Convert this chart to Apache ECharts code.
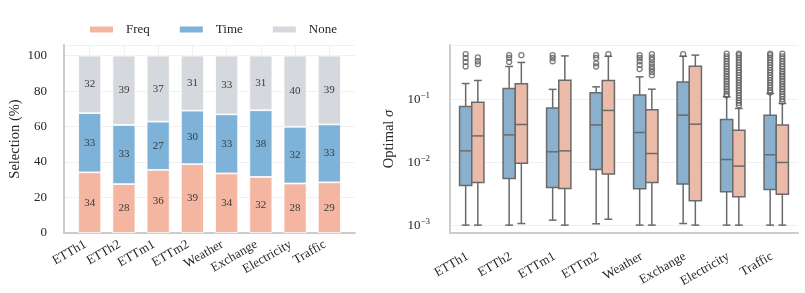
<!DOCTYPE html>
<html>
<head>
<meta charset="utf-8">
<script src="https://cdn.jsdelivr.net/npm/echarts@6/dist/echarts.min.js"></script>
<style>
  html, body { margin: 0; padding: 0; background: #fff; }
  #main { width: 805px; height: 293px; }
</style>
</head>
<body>
<div id="main"></div>
<script>
// datasets on both x axes
const datasets = ['ETTh1', 'ETTh2', 'ETTm1', 'ETTm2', 'Weather', 'Exchange', 'Electricity', 'Traffic'];

// left panel: selection share (%) per dataset
const freqShare = [34.2, 27.6, 35.6, 38.8, 33.6, 31.6, 27.9, 28.6];
const timeShare = [33.4, 33.3, 27.2, 30.2, 33.3, 37.6, 32.0, 32.6];
const noneShare = [32.4, 39.1, 37.2, 31.0, 33.1, 30.8, 40.1, 38.8];

// right panel: optimal sigma, [min, q1, median, q3, max] per dataset
const sigmaTime = [
  [0.001, 0.00426, 0.0151, 0.0766, 0.177],
  [0.001, 0.00551, 0.0271, 0.148, 0.33],
  [0.0012, 0.00396, 0.0146, 0.0727, 0.143],
  [0.00105, 0.00766, 0.039, 0.126, 0.157],
  [0.001, 0.00377, 0.0296, 0.116, 0.226],
  [0.00106, 0.00448, 0.0557, 0.188, 0.48],
  [0.001, 0.00338, 0.011, 0.0476, 0.109],
  [0.001, 0.00369, 0.0131, 0.0557, 0.123]
];
const sigmaFreq = [
  [0.001, 0.00476, 0.0261, 0.0896, 0.198],
  [0.00106, 0.00964, 0.0396, 0.175, 0.383],
  [0.001, 0.00383, 0.0151, 0.2, 0.486],
  [0.00124, 0.00646, 0.0662, 0.198, 0.48],
  [0.001, 0.00476, 0.0137, 0.0678, 0.144],
  [0.001, 0.00243, 0.0401, 0.334, 0.5],
  [0.001, 0.00282, 0.00865, 0.0322, 0.0712],
  [0.001, 0.0031, 0.00988, 0.0387, 0.0855]
];

// fliers
const outTime = [
  [0.33, 0.39, 0.45, 0.52],
  [0.39, 0.45, 0.5],
  [0.40, 0.45, 0.50],
  [0.33, 0.37, 0.45, 0.50],
  [0.30, 0.35, 0.40, 0.45, 0.50],
  [0.52],
  [0.115, 0.12, 0.132, 0.145, 0.158, 0.174, 0.191, 0.209, 0.229, 0.251, 0.275, 0.302, 0.331, 0.363, 0.398, 0.437, 0.479, 0.53],
  [0.128, 0.138, 0.151, 0.166, 0.182, 0.2, 0.219, 0.24, 0.263, 0.288, 0.316, 0.347, 0.38, 0.417, 0.457, 0.501, 0.53]
];
const outFreq = [
  [0.36, 0.40, 0.46],
  [0.50],
  [],
  [0.52],
  [0.24, 0.27, 0.30, 0.33, 0.37, 0.42, 0.46, 0.52],
  [],
  [0.08, 0.0871, 0.0955, 0.105, 0.115, 0.126, 0.138, 0.151, 0.166, 0.182, 0.2, 0.219, 0.24, 0.263, 0.288, 0.316, 0.347, 0.38, 0.417, 0.457, 0.501, 0.53],
  [0.0912, 0.1, 0.11, 0.12, 0.132, 0.145, 0.158, 0.174, 0.191, 0.209, 0.229, 0.251, 0.275, 0.302, 0.331, 0.363, 0.398, 0.437, 0.479, 0.53]
];

const FONT = 'Liberation Serif';
const SPINE = { show: true, onZero: false, lineStyle: { color: '#cccccc', width: 2 } };
const GRIDLINE = { show: true, lineStyle: { color: '#f0f0f0', width: 1 } };
const EDGE = '#6a6a6a';
const catIdx = datasets.map((d, i) => i);

const chart = echarts.init(document.getElementById('main'));

// stacked bar segment (drawn in the inner band grid)
function barSeries(name, values, color) {
  return {
    name: name,
    type: 'bar',
    stack: 'sel',
    xAxisIndex: 2,
    yAxisIndex: 2,
    barWidth: 23,
    data: values,
    itemStyle: { color: color, borderColor: '#ffffff', borderWidth: 0.8 },
    label: {
      show: true,
      position: 'inside',
      formatter: p => Math.round(p.value),
      color: '#3a3a3a',
      fontSize: 11,
      fontFamily: FONT
    }
  };
}

// one box per dataset, shifted left (-1) or right (+1) of the category centre
function boxSeries(stats, fill, side) {
  return {
    type: 'custom',
    xAxisIndex: 1,
    yAxisIndex: 1,
    data: stats.map((s, i) => [i].concat(s)),
    encode: { x: 0, y: [1, 2, 3, 4, 5] },
    renderItem: function (params, api) {
      const band = api.size([1, 0])[0];
      const w = band * 0.28;
      const cap = w * 0.32;
      const cat = api.value(0);
      const cx = api.coord([cat, api.value(3)])[0] + side * w / 2;
      const y = [1, 2, 3, 4, 5].map(k => api.coord([cat, api.value(k)])[1]);
      const ls = { stroke: EDGE, lineWidth: 1.5 };
      return {
        type: 'group',
        children: [
          { type: 'line', shape: { x1: cx, y1: y[0], x2: cx, y2: y[1] }, style: ls },
          { type: 'line', shape: { x1: cx, y1: y[3], x2: cx, y2: y[4] }, style: ls },
          { type: 'line', shape: { x1: cx - cap, y1: y[0], x2: cx + cap, y2: y[0] }, style: ls },
          { type: 'line', shape: { x1: cx - cap, y1: y[4], x2: cx + cap, y2: y[4] }, style: ls },
          { type: 'rect', shape: { x: cx - w / 2, y: y[3], width: w, height: y[1] - y[3] },
            style: { fill: fill, stroke: EDGE, lineWidth: 1.5 } },
          { type: 'line', shape: { x1: cx - w / 2, y1: y[2], x2: cx + w / 2, y2: y[2] }, style: ls }
        ]
      };
    }
  };
}

function outlierSeries(lists, side) {
  const pts = [];
  lists.forEach((vals, i) => vals.forEach(v => pts.push([i, v])));
  return {
    type: 'scatter',
    xAxisIndex: 1,
    yAxisIndex: 1,
    data: pts,
    symbol: 'circle',
    symbolSize: 5,
    symbolOffset: [side * 6.1, 0],
    itemStyle: { color: 'rgba(255,255,255,0)', borderColor: '#5f5f5f', borderWidth: 1.3 },
    silent: true,
    z: 3
  };
}

const option = {
  animation: false,
  textStyle: { fontFamily: FONT, color: '#262626' },
  legend: {
    left: 83,
    top: 18,
    itemWidth: 25,
    itemHeight: 8,
    itemGap: 28,
    icon: 'rect',
    textStyle: { fontSize: 13, fontFamily: FONT, color: '#262626', padding: [0, 0, 0, 7] },
    data: ['Freq', 'Time', 'None']
  },
  grid: [
    // left panel frame (spines, y ticks, gridlines)
    { left: 64, top: 45, width: 291, bottom: 60 },
    // right panel
    { left: 450, top: 45, width: 348, bottom: 60 },
    // left panel bars: 8 bands inside the frame, 0.75 band margin at each side
    { left: 72.56, top: 45, width: 273.9, bottom: 60 }
  ],
  xAxis: [
    {
      type: 'value',
      gridIndex: 0,
      min: -0.75,
      max: 7.75,
      axisLine: SPINE,
      axisTick: { show: false, customValues: catIdx },
      axisLabel: { show: false },
      splitLine: GRIDLINE
    },
    {
      type: 'category',
      gridIndex: 1,
      data: datasets,
      axisLine: SPINE,
      axisTick: { show: false },
      axisLabel: { rotate: 30, margin: 20, padding: [0, 5, 0, 0], fontSize: 13, color: '#262626', interval: 0 },
      splitLine: { show: false }
    },
    {
      type: 'category',
      gridIndex: 2,
      data: datasets,
      axisLine: { show: false },
      axisTick: { show: false },
      axisLabel: { rotate: 30, margin: 8, padding: [0, 5, 0, 0], fontSize: 13, color: '#262626', interval: 0 },
      splitLine: { show: false }
    }
  ],
  yAxis: [
    {
      type: 'value',
      gridIndex: 0,
      min: 0,
      max: 106,
      interval: 20,
      axisLine: SPINE,
      axisTick: { show: false },
      axisLabel: { margin: 17, fontSize: 13, color: '#262626', showMaxLabel: false },
      splitLine: GRIDLINE,
      name: 'Selection (%)',
      nameLocation: 'middle',
      nameGap: 41,
      nameTextStyle: { fontSize: 14.5, color: '#262626', fontFamily: FONT }
    },
    {
      type: 'log',
      gridIndex: 1,
      logBase: 10,
      min: 0.00075,
      max: 0.724,
      axisLine: SPINE,
      axisTick: { show: false },
      axisLabel: {
        margin: 20,
        fontSize: 13,
        color: '#262626',
        showMinLabel: false,
        showMaxLabel: false,
        formatter: v => '10{s|\u2212' + Math.round(-Math.log10(v)) + '}',
        rich: { s: { fontSize: 9, padding: [0, 0, 7, 0], color: '#262626', fontFamily: FONT } }
      },
      splitLine: GRIDLINE,
      name: 'Optimal {i|\u03c3}',
      nameLocation: 'middle',
      nameGap: 53,
      nameTextStyle: {
        fontSize: 14.5, color: '#262626', fontFamily: FONT,
        rich: { i: { fontStyle: 'italic', fontSize: 14.5, fontFamily: FONT, color: '#262626' } }
      }
    },
    {
      type: 'value',
      gridIndex: 2,
      min: 0,
      max: 106,
      show: false
    }
  ],
  series: [
    barSeries('Freq', freqShare, '#f4b6a0'),
    barSeries('Time', timeShare, '#7eb2d8'),
    barSeries('None', noneShare, '#d5d8dd'),
    boxSeries(sigmaTime, '#8ab0ce', -1),
    boxSeries(sigmaFreq, '#eabba9', 1),
    outlierSeries(outTime, -1),
    outlierSeries(outFreq, 1)
  ]
};

chart.setOption(option);
</script>
</body>
</html>
